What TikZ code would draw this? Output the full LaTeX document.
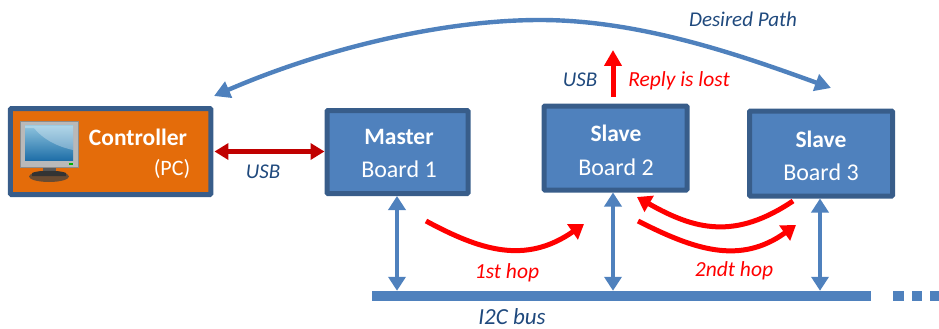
\documentclass[tikz,border=0pt]{standalone}
\usepackage{fontspec}
\setmainfont{Carlito}
\usetikzlibrary{arrows.meta}
\definecolor{boxfill}{HTML}{4F81BD}
\definecolor{boxline}{HTML}{385D8A}
\definecolor{ctrlfill}{HTML}{E46C0A}
\definecolor{lab}{HTML}{1F497D}
\definecolor{usbred}{HTML}{C00000}
\definecolor{scrA}{HTML}{1F6FA8}
\definecolor{scrB}{HTML}{8FC4DE}
\tikzset{
 board/.style={draw=boxline,fill=boxfill,line width=5pt,rounded corners=1pt,inner sep=0pt,text=white,align=center},
 title/.style={font=\fontsize{23.5}{26}\selectfont\bfseries,text=white,inner sep=0pt},
 sub/.style={font=\fontsize{24}{26}\selectfont,text=white,inner sep=0pt},
 note/.style={font=\fontsize{21}{24}\selectfont\itshape,text=lab,inner sep=0pt},
 rednote/.style={font=\fontsize{21.5}{24}\selectfont\itshape,text=red,inner sep=0pt},
 busarrow/.style={draw=boxfill,line width=4.6pt,{Triangle[length=14pt,width=17pt]}-{Triangle[length=14pt,width=17pt]}},
 hop/.style={draw=red,line width=5pt,-{Triangle[length=14pt,width=18pt]}},
 busbar/.style={fill=boxfill,inner sep=0pt,minimum height=10pt},
}
\begin{document}
\begin{tikzpicture}[x=1pt,y=-1pt]
\useasboundingbox (0,0) rectangle (939,329);
% boxes
\node[board,fill=ctrlfill,minimum width=200.5pt,minimum height=86pt] (ctrl) at (110.7,151.5) {};
\node[board,minimum width=141pt,minimum height=83pt] (master) at (397.5,152) {};
\node[board,minimum width=143pt,minimum height=84pt] (s2) at (615.5,148) {};
\node[board,minimum width=143pt,minimum height=85pt] (s3) at (821,153.5) {};
% texts
\node[title] (t1) at (138,137) {Controller};
\node[sub,font=\fontsize{22}{24}\selectfont] (t1b) at (172,169) {(PC)};
\node[title] (t2) at (399,137) {Master};
\node[sub] (t2b) at (399,169) {Board 1};
\node[title] (t3) at (616,133) {Slave};
\node[sub] (t3b) at (616,167) {Board 2};
\node[title] (t4) at (821,139) {Slave};
\node[sub] (t4b) at (821,172) {Board 3};
% monitor icon
\fill[black!75,opacity=.75] (49,176.5) ellipse (20pt and 5.5pt);
\fill[black!65] (43,167) rectangle (56,174);
\fill[black!80] (32,173) .. controls (38,170) and (60,170) .. (66,173) -- (66,176) -- (32,176) -- cycle;
\draw[draw=gray!90,fill=gray!55,line width=.8pt] (20.5,121.5) rectangle (78.5,167);
\shade[top color=scrB,bottom color=scrA] (25,125.5) rectangle (73,160);
\fill[white,opacity=.3] (25,125.5) -- (73,125.5) -- (73,150) .. controls (55,146) and (42,138) .. (34,128) -- (25,128) -- cycle;
\fill[green!70!black] (69,163) rectangle (73,165);
% bus
\node[busbar,minimum width=499pt] (bus) at (621.5,296) {};
\node[busbar,minimum width=11pt] (d1) at (898.5,296) {};
\node[busbar,minimum width=10pt] (d2) at (917,296) {};
\node[busbar,minimum width=10pt] (d3) at (935,296) {};
% connectors
\draw[usbred,line width=4.4pt,{Triangle[length=14pt,width=16pt]}-{Triangle[length=14pt,width=16pt]}] (ctrl.east)++(1,0) -- (master.west |- ctrl.east);
\draw[busarrow] (master.south -| 397,0) -- (bus.north -| 397,0);
\draw[busarrow] (s2.south -| 613,0) -- (bus.north -| 613,0);
\draw[busarrow] (s3.south -| 820,0) -- (bus.north -| 820,0);
\coordinate (dpa) at (214,96);
\coordinate (dpm) at (540,20);
\coordinate (dpb) at (831,88);
\draw[draw=boxfill,line width=4.4pt,{Triangle[length=16pt,width=17pt]}-{Triangle[length=16pt,width=17pt]}] (dpa) .. controls (320,50) and (440,20) .. (dpm) .. controls (640,20) and (740,55) .. (dpb);
\coordinate (lost) at (613,50);
\draw[draw=red,line width=5pt,-{Triangle[length=16pt,width=17pt]}] (s2.north -| 613,0) ++(0,-7) -- (lost);
\coordinate (h1a) at (426,221);
\coordinate (h1b) at (584,224);
\draw[hop] (h1a) .. controls (480,250) and (525,265) .. (h1b);
\coordinate (h2a) at (638,221);
\coordinate (h2b) at (796,225);
\draw[hop] (h2a) .. controls (695,250) and (740,265) .. (h2b);
\coordinate (h3a) at (793,201);
\coordinate (h3b) at (637,197);
\draw[hop] (h3a) .. controls (735,240) and (695,230) .. (h3b);
% labels
\node[note] (l1) at (743,19) {Desired Path};
\node[note] (l2) at (263,172) {USB};
\node[note] (l3) at (580,80) {USB};
\node[note,font=\fontsize{23}{26}\selectfont\itshape] (l4) at (512,317) {I2C bus};
\node[rednote] (l5) at (679,81) {Reply is lost};
\node[rednote] (l6) at (507,273) {1st hop};
\node[rednote] (l7) at (734,271) {2ndt hop};
\end{tikzpicture}
\end{document}
